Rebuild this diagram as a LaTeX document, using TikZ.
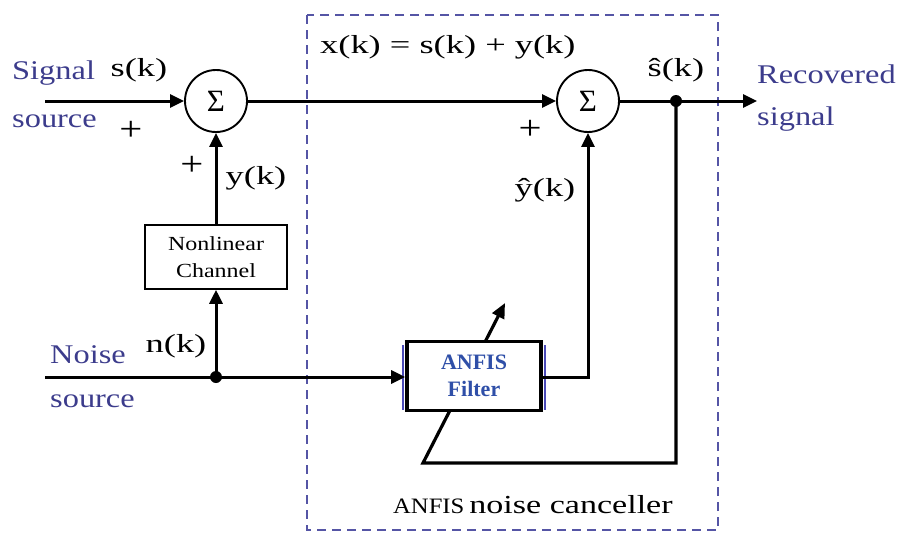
\documentclass[tikz,border=0pt]{standalone}
\usepackage{fontspec}
\setmainfont{Liberation Serif}
\usetikzlibrary{arrows.meta}
\definecolor{lblue}{HTML}{3C3C8C}
\definecolor{fblue}{HTML}{2F4FA8}
\definecolor{dblue}{HTML}{5555A5}
\definecolor{eblue}{HTML}{4A4AB8}
\newcommand\sx[2]{\scalebox{#1}[1]{#2}}
\begin{document}
\begin{tikzpicture}[x=1pt,y=-1pt,
  sig/.style={line width=3pt,-{Triangle[length=14pt,width=13pt]}},
  ln/.style={line width=3pt},
  sumnode/.style={circle,draw,line width=1.9pt,minimum size=62pt,inner sep=0pt,font=\fontsize{31}{33}\selectfont},
  big/.style={font=\fontsize{26}{30}\selectfont,inner sep=0pt},
  plus/.style={font=\fontsize{34}{36}\selectfont,inner sep=0pt},
  srclabel/.style={font=\fontsize{27}{30}\selectfont,text=lblue,anchor=west,inner sep=0pt},
  dot/.style={circle,fill=black,minimum size=12pt,inner sep=0pt}]
\useasboundingbox (0,0) rectangle (905,538);
% dashed box
\draw[dblue,line width=1.6pt,dash pattern=on 9pt off 6pt] (307,15) rectangle (718,530);
% sum nodes
\node[sumnode] (s1) at (216,101) {Σ};
\node[sumnode] (s2) at (588,101) {Σ};
% nonlinear channel
\node[draw,line width=1.6pt,minimum width=142pt,minimum height=64pt,align=center,font=\fontsize{20}{27}\selectfont] (nl) at (216,257) {\sx{1.2}{Nonlinear}\\\sx{1.2}{Channel}};
% coordinates
\coordinate (sin) at (45,101);
\coordinate (nin) at (45,377);
\node[dot] (nd) at (216,377) {};
\node[dot] (od) at (676,101) {};
\coordinate (out) at (757,101);
\coordinate (fb1) at (676,463);
\coordinate (fb2) at (423,463);
\coordinate (fbt) at (505,303);
% feedback (adaptation) path, drawn beneath the filter box
\draw[ln,line width=3.2pt,-{Triangle[length=15pt,width=13pt]}] (od.center) -- (fb1) -- (fb2) -- (fbt);
% ANFIS filter
\draw[eblue,line width=1.2pt] (403,345) -- (403,410) (545,345) -- (545,410);
\node[draw,fill=white,line width=3.6pt,minimum width=134pt,minimum height=69pt,align=center,text=fblue,font=\bfseries\fontsize{22}{27}\selectfont] (af) at (474,376) {ANFIS\\Filter};
% connectors
\draw[sig] (sin) -- (s1.west);
\draw[sig] (nl.north) -- (s1.south);
\draw[sig] (s1.east) -- (s2.west);
\draw[sig] (nd.center) -- (nl.south);
\draw[ln] (nin) -- (nd.center);
\draw[sig] (nd.center) -- (nd.center -| af.west);
\draw[ln] (s2.east) -- (od.center);
\draw[sig] (od.center) -- (out);
\draw[sig] (nd.center -| af.east) -| (s2.south);
% labels
\node[srclabel] (l1) at (12,73) {\sx{1.2}{Signal}};
\node[srclabel] (l2) at (12,121) {\sx{1.2}{source}};
\node[srclabel] (l3) at (50,355) {\sx{1.2}{Noise}};
\node[srclabel] (l4) at (50,401) {\sx{1.2}{source}};
\node[srclabel] (l5) at (757,74) {\sx{1.2}{Recovered}};
\node[srclabel] (l6) at (757,119) {\sx{1.2}{signal}};
\node[big] (t1) at (139,70) {\sx{1.4}{s(k)}};
\node[plus] (t2) at (131,131) {\sx{1.2}{+}};
\node[plus] (t3) at (192,166) {\sx{1.2}{+}};
\node[big] (t4) at (256,178) {\sx{1.4}{y(k)}};
\node[big] (t5) at (176,346) {\sx{1.4}{n(k)}};
\node[big,anchor=west] (t6) at (320,47) {\sx{1.4}{x(k) = s(k) + y(k)}};
\node[plus] (t7) at (530,130) {\sx{1.2}{+}};
\node[big] (t8) at (545,190) {\sx{1.4}{ŷ(k)}};
\node[big] (t9) at (676,70) {\sx{1.4}{ŝ(k)}};
\node[anchor=west,inner sep=0pt] (t10) at (393,505) {\fontsize{22}{26}\selectfont\sx{1.12}{ANFIS}\hspace{5pt}\fontsize{26}{30}\selectfont\sx{1.31}{noise canceller}};
\end{tikzpicture}
\end{document}
